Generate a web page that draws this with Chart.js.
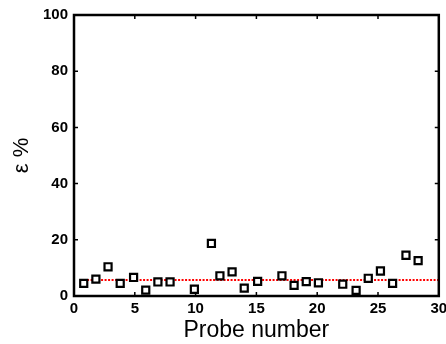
<!DOCTYPE html>
<html>
<head>
<meta charset="utf-8">
<script src="https://cdn.jsdelivr.net/npm/chart.js@4/dist/chart.umd.min.js"></script>
<style>
  html, body { margin: 0; padding: 0; background: #fff; }
  #wrap { width: 446px; height: 344px; }
</style>
</head>
<body>
<div id="wrap"><canvas id="chart"></canvas></div>
<script>
// probe positions and error values
const probeX = [0.8, 1.8, 2.8, 3.8, 4.9, 5.9, 6.9, 7.9, 9.9, 11.3, 12.0, 13.0, 14.0,
                15.1, 17.1, 18.1, 19.1, 20.1, 22.1, 23.2, 24.2, 25.2, 26.2, 27.3, 28.3];
const epsilon = [4.5, 6.0, 10.4, 4.5, 6.6, 2.1, 5.0, 5.0, 2.4, 18.7, 7.2, 8.6, 2.8,
                 5.2, 7.2, 3.8, 5.1, 4.7, 4.2, 2.0, 6.3, 8.9, 4.5, 14.5, 12.6];
const meanX = [0.5, 30];
const meanY = [5.7, 5.7];
const xTicks = [0, 5, 10, 15, 20, 25, 30];
const yTicks = [0, 20, 40, 60, 80, 100];

// frame around plot area with inward tick marks (matlab style)
const framePlugin = {
    id: 'frame',
    afterDraw(chart) {
        const { ctx, chartArea: a, scales } = chart;
        ctx.save();
        ctx.strokeStyle = '#000';
        ctx.lineWidth = 2.5;
        ctx.strokeRect(a.left, a.top, a.right - a.left, a.bottom - a.top);
        ctx.lineWidth = 1.5;
        const len = 4;
        ctx.beginPath();
        scales.x.ticks.forEach(t => {
            const px = scales.x.getPixelForValue(t.value);
            ctx.moveTo(px, a.bottom); ctx.lineTo(px, a.bottom - len);
            ctx.moveTo(px, a.top); ctx.lineTo(px, a.top + len);
        });
        scales.y.ticks.forEach(t => {
            const py = scales.y.getPixelForValue(t.value);
            ctx.moveTo(a.left, py); ctx.lineTo(a.left + len, py);
            ctx.moveTo(a.right, py); ctx.lineTo(a.right - len, py);
        });
        ctx.stroke();
        ctx.restore();
    }
};

const tickFont = { family: 'Liberation Sans, Arial, sans-serif', size: 15, weight: 'bold' };

new Chart(document.getElementById('chart'), {
    type: 'scatter',
    data: {
        datasets: [
            {
                data: meanX.map((x, i) => ({ x, y: meanY[i] })),
                type: 'line',
                showLine: true,
                borderColor: '#ff0000',
                borderWidth: 2,
                borderDash: [2, 1.5],
                pointRadius: 0,
                fill: false,
                order: 2
            },
            {
                data: probeX.map((x, i) => ({ x, y: epsilon[i] })),
                pointStyle: 'rect',
                pointRadius: 5,
                borderWidth: 2.2,
                borderColor: '#000',
                backgroundColor: '#fff',
                order: 1
            }
        ]
    },
    options: {
        responsive: true,
        maintainAspectRatio: false,
        animation: false,
        layout: { padding: { left: 0, right: 6, top: 15, bottom: 0 } },
        plugins: { legend: { display: false }, tooltip: { enabled: false } },
        scales: {
            x: {
                type: 'linear',
                min: 0,
                max: 30,
                afterBuildTicks: s => { s.ticks = xTicks.map(v => ({ value: v })); },
                afterFit: s => { s.height = 48; s.paddingLeft = 0; s.paddingRight = 0; },
                ticks: { font: tickFont, color: '#000', padding: 4, maxRotation: 0 },
                grid: { display: false, drawTicks: false },
                border: { display: false },
                title: {
                    display: true,
                    text: 'Probe number',
                    color: '#000',
                    font: { family: 'Liberation Sans, Arial, sans-serif', size: 23 },
                    padding: { top: 0, bottom: 0 }
                }
            },
            y: {
                min: 0,
                max: 100,
                afterBuildTicks: s => { s.ticks = yTicks.map(v => ({ value: v })); },
                afterFit: s => { s.width = 74; s.paddingTop = 0; s.paddingBottom = 0; },
                ticks: { font: tickFont, color: '#000', padding: 6 },
                grid: { display: false, drawTicks: false },
                border: { display: false },
                title: {
                    display: true,
                    text: 'ε %',
                    color: '#000',
                    font: { family: 'Liberation Sans, Arial, sans-serif', size: 22 },
                    padding: { top: 9, bottom: 0 }
                }
            }
        }
    },
    plugins: [framePlugin]
});
</script>
</body>
</html>
